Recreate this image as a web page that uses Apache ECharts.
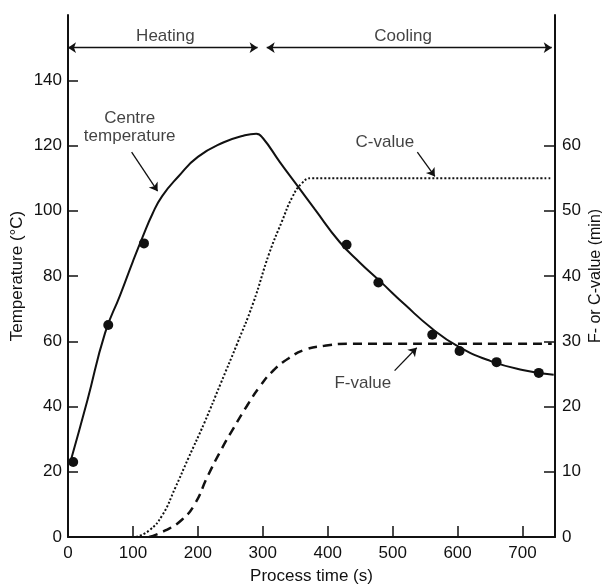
<!DOCTYPE html>
<html>
<head>
<meta charset="utf-8">
<script src="https://cdn.jsdelivr.net/npm/echarts@6/dist/echarts.min.js"></script>
<style>
html, body { margin: 0; padding: 0; background: #fff; }
#chart { width: 602px; height: 584px; }
</style>
</head>
<body>
<div id="chart"></div>
<script>
// centre temperature curve (s, °C)
var tempTime  = [3, 30, 57, 80, 100, 115, 130, 145, 170, 200, 240, 270, 290, 300, 326, 352, 380, 418, 450, 480, 520, 560, 600, 650, 700, 748];
var tempValue = [22.5, 42, 62.5, 74, 84.5, 92, 99, 104.5, 110.5, 116.5, 121, 123, 123.6, 122.3, 115, 108, 100.5, 90.5, 84, 78.5, 71, 64, 58.5, 54, 51.2, 49.7];

// measured temperatures
var dotTime  = [8, 62, 117, 429, 478, 561, 603, 660, 725];
var dotValue = [23, 65, 90, 89.6, 78, 62, 57, 53.6, 50.3];

// C-value (min)
var cTime  = [105, 125, 145, 165, 185, 210, 235, 260, 285, 310, 330, 345, 360, 375, 745];
var cValue = [0, 1, 3.3, 7.5, 12, 17.5, 23.5, 29.5, 35.8, 43.5, 48.5, 52, 54.2, 55, 55];

// F-value (min)
var fTime  = [125, 150, 175, 195, 215, 235, 255, 275, 295, 315, 340, 365, 395, 430, 745];
var fValue = [0, 1, 2.6, 5, 9.3, 13.2, 16.7, 20, 23, 25.4, 27.4, 28.7, 29.3, 29.6, 29.6];

// tick labels
var timeTicks = [0, 100, 200, 300, 400, 500, 600, 700];
var tempTicks = [0, 20, 40, 60, 80, 100, 120, 140];
var minTicks  = [0, 10, 20, 30, 40, 50, 60];

// annotations (time, °C)
var noteText = ['Heating', 'Cooling', 'Centre\ntemperature', 'C-value', 'F-value'];
var noteAt   = [[150, 153.5], [516, 153.5], [95, 125.5], [488, 121], [454, 47]];
var phaseLines = [[[0, 150], [292, 150]], [[306, 150], [745, 150]]];
var pointers = [[[98, 118], [138, 106]], [[538, 118], [565, 110.5]], [[503, 51], [537, 58]]];

function pairs(xs, ys) {
  return xs.map(function (x, i) { return [x, ys[i]]; });
}

var ink = '#111';
var font = '"Liberation Sans", Arial, sans-serif';
var fs = 17;

var chart = echarts.init(document.getElementById('chart'));

chart.setOption({
  animation: false,
  backgroundColor: '#fff',
  textStyle: { fontFamily: font, color: ink },
  grid: { left: 68, right: 47, top: 15, bottom: 47, outerBoundsMode: 'none' },
  xAxis: {
    type: 'value',
    min: 0,
    max: 750,
    name: 'Process time (s)',
    nameLocation: 'middle',
    nameGap: 31,
    nameMoveOverlap: false,
    nameTextStyle: { fontSize: fs, color: ink, fontFamily: font },
    axisLine: { lineStyle: { color: ink, width: 2 } },
    axisTick: { inside: true, length: 11, customValues: timeTicks.slice(1), lineStyle: { color: ink, width: 1.5 } },
    axisLabel: { customValues: timeTicks, fontSize: fs, color: ink, margin: 8, fontFamily: font },
    splitLine: { show: false }
  },
  yAxis: [
    {
      type: 'value',
      min: 0,
      max: 160,
      name: 'Temperature (°C)',
      nameLocation: 'middle',
      nameGap: 42,
      nameMoveOverlap: false,
      nameTextStyle: { fontSize: fs, color: ink, fontFamily: font },
      axisLine: { show: true, lineStyle: { color: ink, width: 2 } },
      axisTick: { show: true, inside: true, length: 10, customValues: tempTicks.slice(1), lineStyle: { color: ink, width: 1.5 } },
      axisLabel: { customValues: tempTicks, fontSize: fs, color: ink, margin: 6, fontFamily: font },
      splitLine: { show: false }
    },
    {
      type: 'value',
      min: 0,
      max: 80,
      position: 'right',
      name: 'F- or C-value (min)',
      nameLocation: 'middle',
      nameGap: 33,
      nameRotate: 90,
      nameMoveOverlap: false,
      nameTextStyle: { fontSize: 16, color: ink, fontFamily: font },
      axisLine: { show: true, lineStyle: { color: ink, width: 2 } },
      axisTick: { show: true, inside: true, length: 11, customValues: minTicks.slice(1), lineStyle: { color: ink, width: 1.5 } },
      axisLabel: { customValues: minTicks, fontSize: fs, color: ink, margin: 7, fontFamily: font },
      splitLine: { show: false }
    }
  ],
  series: [
    {
      name: 'Centre temperature',
      type: 'line',
      yAxisIndex: 0,
      data: pairs(tempTime, tempValue),
      smooth: 0.5,
      showSymbol: false,
      lineStyle: { color: ink, width: 2 },
      markLine: {
        silent: true,
        symbol: ['arrow', 'arrow'],
        symbolSize: 8,
        label: { show: false },
        lineStyle: { color: ink, width: 1.3, type: 'solid' },
        data: phaseLines.map(function (p) { return [{ coord: p[0] }, { coord: p[1] }]; })
      }
    },
    {
      name: 'pointers',
      type: 'line',
      yAxisIndex: 0,
      data: [],
      markLine: {
        silent: true,
        symbol: ['none', 'arrow'],
        symbolSize: 8,
        label: { show: false },
        lineStyle: { color: ink, width: 1.3, type: 'solid' },
        data: pointers.map(function (p) { return [{ coord: p[0] }, { coord: p[1] }]; })
      }
    },
    {
      name: 'Measured',
      type: 'scatter',
      yAxisIndex: 0,
      data: pairs(dotTime, dotValue),
      symbolSize: 10,
      itemStyle: { color: ink, opacity: 1 }
    },
    {
      name: 'C-value',
      type: 'line',
      yAxisIndex: 1,
      data: pairs(cTime, cValue),
      smooth: 0.5,
      showSymbol: false,
      lineStyle: { color: ink, width: 2, type: [2, 2] }
    },
    {
      name: 'F-value',
      type: 'line',
      yAxisIndex: 1,
      data: pairs(fTime, fValue),
      smooth: 0.5,
      showSymbol: false,
      lineStyle: { color: ink, width: 2.5, type: [9, 6] }
    },
    {
      name: 'notes',
      type: 'scatter',
      yAxisIndex: 0,
      silent: true,
      symbolSize: 1,
      itemStyle: { color: 'rgba(0,0,0,0)' },
      data: noteAt.map(function (p, i) {
        return { value: p, label: { formatter: noteText[i] } };
      }),
      label: {
        show: true,
        position: 'inside',
        fontSize: fs,
        lineHeight: 18,
        align: 'center',
        color: ink,
        fontFamily: font
      }
    }
  ]
});
</script>
</body>
</html>
